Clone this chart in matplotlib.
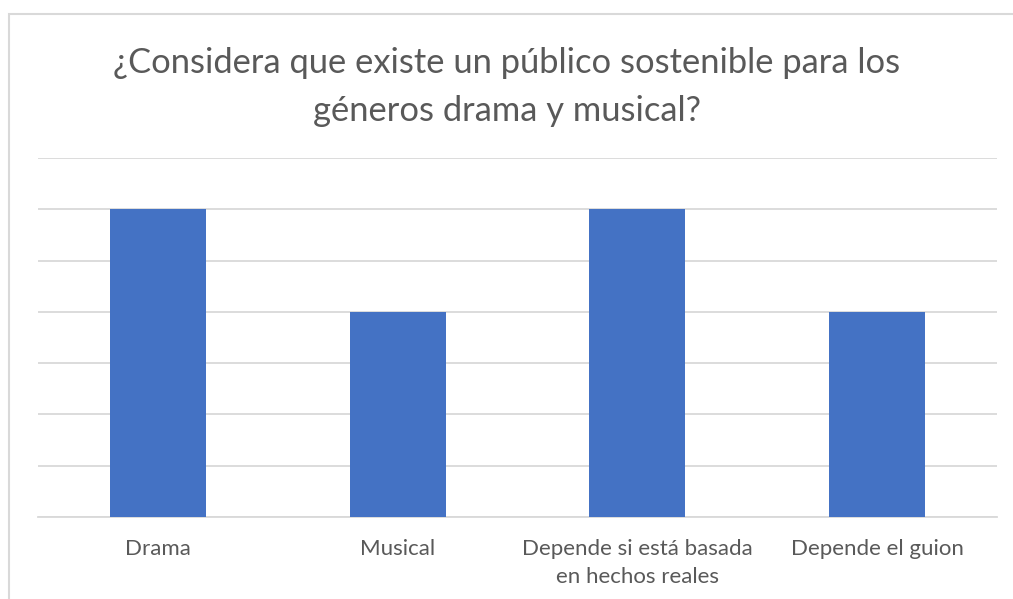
import matplotlib.pyplot as plt
from matplotlib.patches import Rectangle

categories = ["Drama", "Musical", "Depende si está basada\nen hechos reales", "Depende el guion"]
values = [3, 2, 3, 2]

plt.rcParams['font.family'] = ['Lato', 'DejaVu Sans']

fig = plt.figure(figsize=(10.13, 5.99), dpi=100)
ax = fig.add_axes([38 / 1013, 82 / 599, 959 / 1013, 359 / 599])

# chart border, clipped on the right and bottom
fig.patches.append(Rectangle((8.5 / 1013, -0.1), 1.2, 585 / 599 + 0.1,
                             transform=fig.transFigure, fill=False,
                             edgecolor="#d9d9d9", linewidth=1.5))

x = range(len(categories))
ax.bar(x, values, width=0.4, color="#4472C4", zorder=3)

ax.set_xlim(-0.5, len(categories) - 0.5)
ax.set_ylim(0, 3.5)
ax.set_yticks([i * 0.5 for i in range(8)])
ax.yaxis.grid(True, color="#d9d9d9", linewidth=1.3, zorder=0)
ax.tick_params(axis="y", left=False, labelleft=False)
ax.tick_params(axis="x", length=0, pad=16, labelsize=16, labelcolor="#595959")
ax.set_xticks(list(x))
ax.set_xticklabels(categories, linespacing=1.5)
for side in ["top", "right", "left"]:
    ax.spines[side].set_visible(False)
ax.spines["bottom"].set_color("#d9d9d9")
ax.spines["bottom"].set_linewidth(1.3)

fig.text(0.5, 1 - 87 / 599, "¿Considera que existe un público sostenible para los\ngéneros drama y musical?",
         ha="center", va="center", fontsize=24.8, color="#595959", linespacing=1.65)

fig.savefig("out.png", dpi=100)
